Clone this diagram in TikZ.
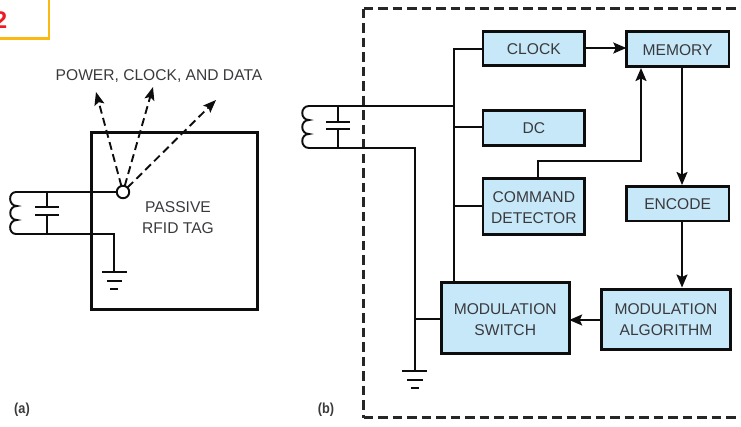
\documentclass[tikz,border=0pt]{standalone}
\usepackage{fontspec}
\setmainfont{Liberation Sans}
\usetikzlibrary{arrows.meta}
\definecolor{boxfill}{HTML}{C6E8F8}
\definecolor{inktext}{HTML}{3A3A3E}
\definecolor{framey}{HTML}{FDB913}
\definecolor{figred}{HTML}{ED1C24}
\tikzset{
  x=1pt,y=-1pt,
  wire/.style={line width=1.9pt,black!95},
  txt/.style={inner sep=0pt,outer sep=0pt,text=inktext,font=\fontsize{15.6}{21}\selectfont,align=center},
  blockbox/.style={draw=black!95,line width=2.9pt,fill=boxfill,inner sep=0pt,outer sep=0pt,text=inktext,font=\fontsize{15.6}{21}\selectfont,align=center},
  flow/.style={wire,-{Stealth[length=13pt,width=11pt,inset=2.5pt]}},
  ray/.style={line width=1.9pt,black!95,dash pattern=on 8pt off 4.5pt,-{Stealth[length=13pt,width=10pt,inset=2.5pt]}},
  panel/.style={font=\bfseries\fontsize{14.5}{16}\selectfont\addfontfeature{FakeStretch=0.88},text=inktext,inner sep=0pt},
  plate/.style={line width=2pt,black!95},
  dashframe/.style={line width=2.1pt,black!85,dash pattern=on 9.5pt off 5pt}
}
\newcommand{\blockat}[6]{\node[blockbox,minimum width=#4-#3,minimum height=#6-#5,anchor=north west] (#1) at (#3,#5) {#2};}
\begin{document}
\begin{tikzpicture}
\useasboundingbox (0,0) rectangle (741,426);
% corner tab
\draw[framey,line width=2.4pt] (-5,38.5) -- (49,38.5) -- (49,-5);
\node[anchor=east,inner sep=0pt,text=figred,font=\bfseries\fontsize{24}{26}\selectfont] (figno) at (7.5,20) {2};
% (a)
\node[draw=black!95,line width=3pt,minimum width=166.6pt,minimum height=177pt,inner sep=0pt,outer sep=0pt,anchor=north west] (tag) at (91.2,132.5) {};
\node[txt,anchor=center] (taglabel) at (178,217.5) {PASSIVE\\RFID TAG};
\node[txt,anchor=center] (power) at (159,76.5) {POWER, CLOCK, AND DATA};
\node[draw=black!95,line width=1.9pt,fill=white,circle,minimum size=12.5pt,inner sep=0pt,outer sep=0pt] (hub) at (123,192) {};
\coordinate (t1) at (96,92); \coordinate (t2) at (153,87); \coordinate (t3) at (216,100);
\draw[ray] (hub) -- (t1);
\draw[ray] (hub) -- (t2);
\draw[ray] (hub) -- (t3);
\coordinate (ca1) at (16,192); \coordinate (ca2) at (16,234);
\coordinate (capa) at (47,192); \coordinate (capb) at (47,234);
\coordinate (gnda) at (114,272);
\draw[wire] (ca1) .. controls (8,192) and (8,206) .. (17,206)
  .. controls (8,206) and (8,220) .. (17,220)
  .. controls (8,220) and (8,234) .. (ca2);
\draw[wire] (ca1) -- (hub);
\draw[wire] (ca2) -- (114,234) -- (gnda);
\draw[wire] (capa) -- (47,207) (47,215) -- (capb);
\draw[plate] (35,207) -- (59,207) (35,215) -- (59,215);
\draw[plate] (102,272) -- (127,272) (107,281) -- (122,281) (110,289) -- (118,289);
% (a),(b)
\node[panel,anchor=center] (la) at (22,410) {(a)};
\node[panel,anchor=center] (lb) at (326,410) {(b)};
% (b) dashed frame
\coordinate (b1) at (741,8.5); \coordinate (b2) at (363.5,8.5); \coordinate (b3) at (363.5,417.5); \coordinate (b4) at (741,417.5);
\draw[dashframe] (b2) -- (b1);
\draw[dashframe] (b2) -- (b3);
\draw[dashframe] (b3) -- (b4);
% blocks
\blockat{clock}{CLOCK}{483}{584.7}{31.8}{65.7}
\blockat{dc}{DC}{483}{584.7}{110.6}{145.4}
\blockat{cmd}{\rule{0pt}{13.2pt}COMMAND\\DETECTOR}{483}{584.7}{178.6}{234.7}
\blockat{mem}{\rule{0pt}{13.2pt}MEMORY}{626.3}{729}{31.3}{66.7}
\blockat{enc}{ENCODE}{626.3}{729}{186.6}{221}
\blockat{alg}{MODULATION\\ALGORITHM}{601.6}{730.4}{289.3}{349.4}
\blockat{sw}{\rule{0pt}{14.2pt}MODULATION\\SWITCH}{441.3}{569.2}{282.8}{353.5}
% coil + cap (b)
\coordinate (cb1) at (309,106); \coordinate (cb2) at (309,148);
\draw[wire] (cb1) .. controls (300,106) and (300,120) .. (309,120)
  .. controls (300,120) and (300,134) .. (309,134)
  .. controls (300,134) and (300,148) .. (cb2);
\draw[wire] (338,106) -- (338,122) (338,129) -- (338,148);
\draw[plate] (326,122) -- (350,122) (326,129) -- (350,129);
% wires (b)
\coordinate (busT) at (454,49); \coordinate (busJ) at (454,106);
\coordinate (gndb) at (415,371);
\draw[wire] (cb1) -- (busJ);
\draw[wire] (clock.west |- busT) -- (busT) -- (busT |- sw.north);
\draw[wire] (454,127) -- (dc.west |- 0,127);
\draw[wire] (454,206) -- (cmd.west |- 0,206);
\draw[wire] (cb2) -- (415,148) -- (gndb);
\draw[wire] (415,319) -- (sw.west |- 0,319);
\draw[plate] (402,371) -- (427,371) (407,380) -- (423,380) (411,388) -- (419,388);
% flows
\draw[flow] (clock.east |- 0,48) -- (mem.west |- 0,48);
\draw[flow] (682,67) -- (682,185);
\draw[flow] (682,221.5) -- (682,287.5);
\draw[flow] (alg.west |- 0,320) -- (sw.east |- 0,320);
\draw[flow] (538,178) -- (538,161) -- (641,161) -- (641,68);
\end{tikzpicture}
\end{document}
